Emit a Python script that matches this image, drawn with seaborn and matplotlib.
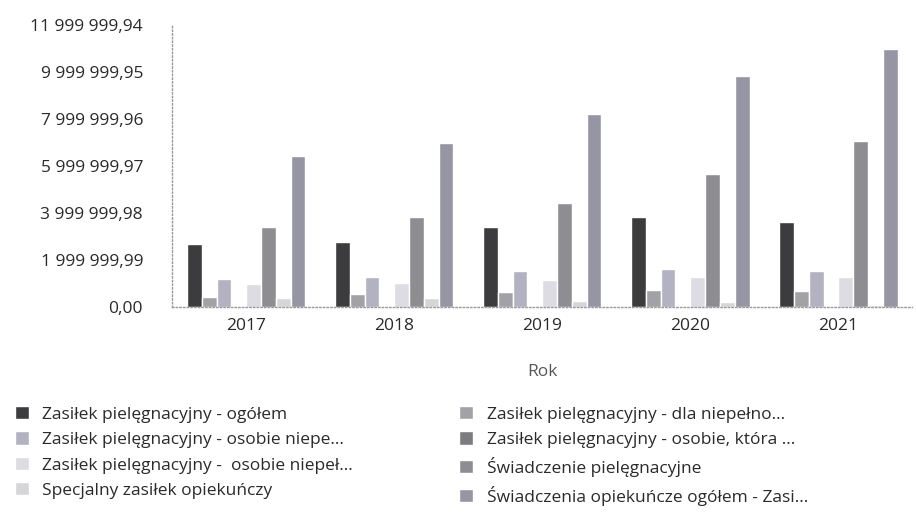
import pandas as pd
import matplotlib
matplotlib.use('Agg')
import matplotlib.pyplot as plt
import seaborn as sns
from matplotlib.ticker import FuncFormatter

# data (values in PLN)
years = ['2017', '2018', '2019', '2020', '2021']
series = [
    'Zasiłek pielęgnacyjny - ogółem',
    'Zasiłek pielęgnacyjny - dla niepełno...',
    'Zasiłek pielęgnacyjny - osobie niepe...',
    'Zasiłek pielęgnacyjny - osobie, która ...',
    'Zasiłek pielęgnacyjny -  osobie niepeł...',
    'Świadczenie pielęgnacyjne',
    'Specjalny zasiłek opiekuńczy',
    'Świadczenia opiekuńcze ogółem - Zasi...',
]
zas_ogolem = [2680000, 2770000, 3400000, 3830000, 3620000]
zas_dziecko = [430000, 550000, 640000, 720000, 680000]
zas_niepe = [1190000, 1280000, 1530000, 1620000, 1530000]
zas_75 = [0, 0, 0, 0, 0]
zas_niepel = [980000, 1020000, 1150000, 1280000, 1280000]
swiad_piel = [3400000, 3830000, 4430000, 5660000, 7060000]
specjalny = [380000, 380000, 260000, 210000, 80000]
opiek_ogolem = [6400000, 6980000, 8210000, 9830000, 10980000]

values = [zas_ogolem, zas_dziecko, zas_niepe, zas_75, zas_niepel,
          swiad_piel, specjalny, opiek_ogolem]
colors = ['#3c3c3e', '#a2a2a6', '#b3b2c2', '#7c7c80',
          '#dcdce2', '#8e8e92', '#d6d6d8', '#9695a4']

rows = []
for name, vals in zip(series, values):
    for y, v in zip(years, vals):
        rows.append({'Rok': y, 'Seria': name, 'Wartosc': v})
df = pd.DataFrame(rows)

sns.set_style('white')
plt.rcParams['font.family'] = ['Open Sans', 'DejaVu Sans']

fig = plt.figure(figsize=(9.16, 5.2), dpi=100)
ax = fig.add_axes([0.188, 0.41, 0.808, 0.542])

sns.barplot(data=df, x='Rok', y='Wartosc', hue='Seria', hue_order=series,
            palette=colors, width=0.8, saturation=1, ax=ax, legend=True)

top = 11999999.94
ax.set_ylim(0, top)
ax.set_yticks([top * i / 6 for i in range(7)])
ax.yaxis.set_major_formatter(FuncFormatter(
    lambda v, p: f'{v:,.2f}'.replace(',', ' ').replace('.', ',')))
ax.tick_params(axis='y', length=0, pad=21, labelsize=12.5, labelcolor='#2a2a2a')
ax.tick_params(axis='x', length=0, pad=8, labelsize=12.5, labelcolor='#2a2a2a')
ax.set_xlabel('Rok', fontsize=12.5, color='#555555', labelpad=22)
ax.set_ylabel('')

for s in ['top', 'right']:
    ax.spines[s].set_visible(False)
for s in ['left', 'bottom']:
    ax.spines[s].set_linestyle(':')
    ax.spines[s].set_color('#999999')
    ax.spines[s].set_linewidth(1)

handles, labels = ax.get_legend_handles_labels()
ax.get_legend().remove()
order = [0, 2, 4, 6, 1, 3, 5, 7]
fig.legend([handles[i] for i in order], [labels[i] for i in order],
           loc='upper left', bbox_to_anchor=(0.016, 0.219), ncol=2,
           frameon=False, fontsize=12.5, handlelength=0.8, handleheight=0.8,
           handletextpad=0.8, labelspacing=0.5, columnspacing=6.1,
           borderpad=0, borderaxespad=0, labelcolor='#2a2a2a')

fig.savefig('out.png', dpi=100)
